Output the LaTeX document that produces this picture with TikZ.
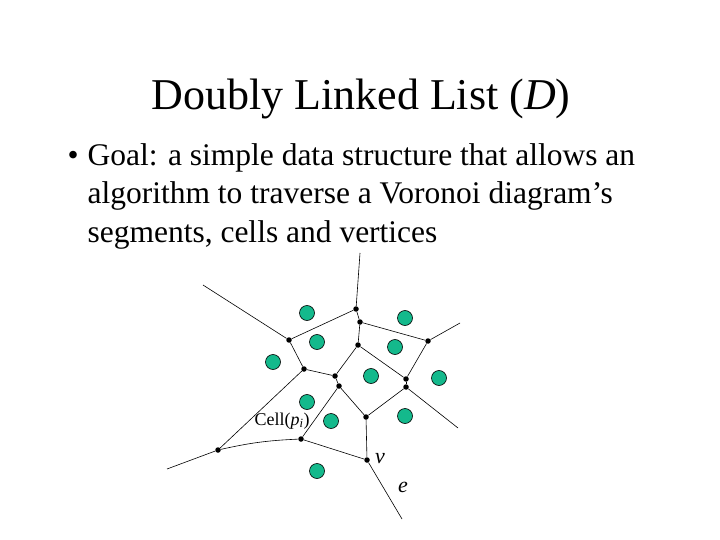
\documentclass[tikz,border=0pt]{standalone}
\usepackage{fontspec}
\setmainfont{Liberation Serif}
\definecolor{sitegreen}{RGB}{20,185,140}
\tikzset{
  site/.style={circle, draw=black, fill=sitegreen, line width=0.6pt, minimum size=15pt, inner sep=0pt},
  vert/.style={circle, fill=black, minimum size=5.5pt, inner sep=0pt},
  edge/.style={line width=0.6pt}
}
\begin{document}
\begin{tikzpicture}[x=1pt, y=-1pt]
    \useasboundingbox (0,0) rectangle (720,540);

    % text
    \node[anchor=base] (title) at (361,110) {\fontsize{44}{52}\selectfont Doubly Linked List (\textit{D})};
    \node[anchor=base west] (bul) at (64,166) {\fontsize{31.5}{38}\selectfont •};
    \node[anchor=base west] (l1) at (84,166) {\fontsize{31.5}{38}\selectfont Goal: a simple data structure that allows an};
    \node[anchor=base west] (l2) at (84,204) {\fontsize{31.5}{38}\selectfont algorithm to traverse a Voronoi diagram’s};
    \node[anchor=base west] (l3) at (84,242) {\fontsize{31.5}{38}\selectfont segments, cells and vertices};

    % vertices
    \node[vert] (v1) at (356,309) {};
    \node[vert] (v2) at (360,322) {};
    \node[vert] (v3) at (289,340) {};
    \node[vert] (v4) at (358,345) {};
    \node[vert] (v5) at (428,341) {};
    \node[vert] (v6) at (304,369) {};
    \node[vert] (v7) at (335,376) {};
    \node[vert] (v8) at (339,386) {};
    \node[vert] (v9) at (406,379) {};
    \node[vert] (v10) at (406,387) {};
    \node[vert] (v11) at (366,417) {};
    \node[vert] (v12) at (218,450) {};
    \node[vert] (v13) at (301,439) {};
    \node[vert] (v14) at (367,460) {};

    % free ends
    \coordinate (top) at (360,253);
    \coordinate (ul) at (203,285);
    \coordinate (rt) at (460,323);
    \coordinate (lr) at (458,428);
    \coordinate (lf) at (167,469);
    \coordinate (bt) at (402,519);

    % edges
    \draw[edge] (top) -- (v1);
    \draw[edge] (v1) -- (v2);
    \draw[edge] (v1) -- (v3);
    \draw[edge] (v3) -- (ul);
    \draw[edge] (v3) -- (v6);
    \draw[edge] (v2) -- (v5);
    \draw[edge] (v2) -- (v4);
    \draw[edge] (v5) -- (rt);
    \draw[edge] (v5) -- (v9);
    \draw[edge] (v4) -- (v7);
    \draw[edge] (v4) -- (v9);
    \draw[edge] (v6) -- (v7);
    \draw[edge] (v7) -- (v8);
    \draw[edge] (v6) -- (v12);
    \draw[edge] (v8) -- (v13);
    \draw[edge] (v8) -- (v11);
    \draw[edge] (v9) -- (v10);
    \draw[edge] (v10) -- (v11);
    \draw[edge] (v10) -- (lr);
    \draw[edge] (v11) -- (v14);
    \draw[edge] (v13) -- (v14);
    \draw[edge] (v12) to[bend left=5] (v13);
    \draw[edge] (v12) -- (lf);
    \draw[edge] (v14) -- (bt);

    % sites
    \node[site] (s1) at (307,313) {};
    \node[site] (s2) at (405,318) {};
    \node[site] (s3) at (317,342) {};
    \node[site] (s4) at (395,347) {};
    \node[site] (s5) at (273,362) {};
    \node[site] (s6) at (371,376) {};
    \node[site] (s7) at (439,378) {};
    \node[site] (s8) at (307,402) {};
    \node[site] (s9) at (331,421) {};
    \node[site] (s10) at (405,416) {};
    \node[site] (s11) at (317,471) {};

    % labels
    \node[inner sep=0pt] (cell) at (282,421) {\fontsize{18}{20}\selectfont Cell(\textit{p}\textsubscript{\textit{i}})};
    \node[inner sep=0pt] (lv) at (380,459) {\fontsize{22}{24}\selectfont\textit{v}};
    \node[inner sep=0pt] (le) at (403,487) {\fontsize{22}{24}\selectfont\textit{e}};
\end{tikzpicture}
\end{document}
